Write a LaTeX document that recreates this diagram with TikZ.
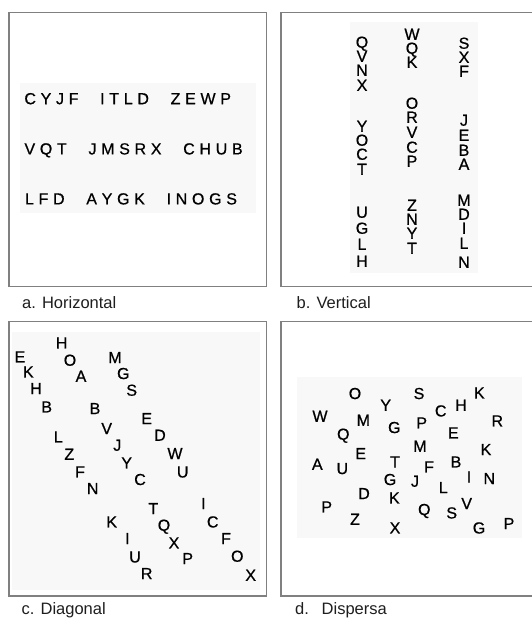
\documentclass[tikz,border=0pt]{standalone}
\usepackage{fontspec}
\setmainfont{Liberation Sans}
\newfontfamily\ltrfont[FakeBold=0.7]{Liberation Sans}
\definecolor{framegray}{RGB}{128,128,128}
\definecolor{bggray}{RGB}{248,248,248}
\definecolor{captxt}{RGB}{30,30,30}
\newlength\lsp
\setlength\lsp{4.7pt}
\def\spaced#1{\spacedi#1\relax}
\def\spacedi#1{\ifx#1\relax\else#1\kern\lsp\expandafter\spacedi\fi}
\newcommand\hrowtext[3]{\spaced{#1}\hspace{17pt}\spaced{#2}\hspace{17pt}\spaced{#3}}
\begin{document}
\begin{tikzpicture}[x=1pt,y=-1pt,
  frame/.style={draw=framegray, line width=1.8pt},
  bgbox/.style={fill=bggray, draw=none},
  ltr/.style={font=\ltrfont\fontsize{16}{17}\selectfont, inner sep=0pt, text height=11.5pt, text depth=0pt},
  hrow/.style={font=\ltrfont\fontsize{16}{17}\selectfont, inner sep=0pt, anchor=base west},
  captext/.style={font=\fontsize{16.5}{18}\selectfont, text=captxt, inner sep=0pt, anchor=base west}]
\useasboundingbox (0,0) rectangle (531,619);
\fill[white] (0,0) rectangle (531,619);
% backgrounds
\path[bgbox] (20,83) rectangle (256,213);
\path[bgbox] (350,22) rectangle (478,273);
\path[bgbox] (12,332) rectangle (260,590);
\path[bgbox] (297,377) rectangle (522,538);
% frames
\draw[frame] (9,12.5) rectangle (266.5,286.5);
\draw[frame] (545,12.5) -- (281,12.5) -- (281,286.5) -- (545,286.5);
\draw[frame] (9,321.5) rectangle (266.5,596);
\draw[frame] (545,321.5) -- (281,321.5) -- (281,596) -- (545,596);
% panel a
\node[hrow] (ar1) at (24.2,104.2) {\hrowtext{CYJF}{ITLD}{ZEWP}};
\node[hrow] (ar2) at (24.3,154.4) {\hrowtext{VQT}{JMSRX}{CHUB}};
\node[hrow] (ar3) at (24.8,204.4) {\hrowtext{LFD}{AYGK}{INOGS}};
% panel b
\foreach \y/\c [count=\i] in {42/Q,56/V,70/N,85/X,126/Y,140/O,154/C,169/T,212/U,228/G,244/L,261/H}
  \node[ltr] (b1-\i) at (362,\y) {\c};
\foreach \y/\c [count=\i] in {34/W,48/Q,62/K,103/O,117/R,132/V,147/C,161/P,205/Z,219/N,233/Y,248/T}
  \node[ltr] (b2-\i) at (412,\y) {\c};
\foreach \y/\c [count=\i] in {43/S,57/X,71/F,120/J,135/E,150/B,164/A,200/M,214/D,228/I,243/L,262/N}
  \node[ltr] (b3-\i) at (464,\y) {\c};
% panel c
\foreach \x/\y/\c [count=\i] in {
  61.7/342.7/H, 20/356.7/E, 70/360/O, 115/357.3/M, 28.3/371.7/K, 81/376/A,
  123.3/373.3/G, 36/388.3/H, 131.7/390/S, 46.7/406.7/B, 95/408.3/B, 146.7/418.3/E,
  106.7/428.3/V, 58.3/436.7/L, 160/435/D, 117.3/445/J, 175/453.3/W, 69.3/454/Z,
  126.7/462.7/Y, 182.7/471.7/U, 80/471.7/F, 140/479.3/C, 92.7/488.3/N, 153.3/508.3/T,
  203.3/503.3/I, 111.7/521.7/K, 212.7/521.7/C, 164/525/Q, 127.3/538.3/I, 174/542.7/X,
  226/538.3/F, 135/556.7/U, 187.7/558.3/P, 237.3/556/O, 146.7/573.3/R, 250.7/575/X}
  \node[ltr] (c-\i) at (\x,\y) {\c};
% panel d
\foreach \x/\y/\c [count=\i] in {
  355/393.3/O, 419/393.3/S, 479.3/392.7/K, 385.7/405/Y, 461/405/H, 440.7/410.7/C,
  320/416/W, 363.3/420/M, 497.3/420.7/R, 394.3/427.3/G, 421.7/422.7/P, 343.3/434/Q,
  453.3/432.7/E, 420/446/M, 486/449.3/K, 360.7/453.3/E, 317.3/464/A, 395/461.7/T,
  456/461.7/B, 342.3/468.3/U, 429/466.7/F, 469/476.7/I, 489.3/478.3/N, 390/479.3/G,
  415/481/J, 443.3/487.3/L, 364/493.3/D, 394.3/497.7/K, 326.7/506.7/P, 466.7/503.3/V,
  424.3/509.3/Q, 451.7/512.7/S, 355/519/Z, 509/523.3/P, 479/527.7/G, 395/527.7/X}
  \node[ltr] (d-\i) at (\x,\y) {\c};
% captions
\node[captext] (capa) at (22,308.5) {a. Horizontal};
\node[captext] (capb) at (296.5,308.5) {b. Vertical};
\node[captext] (capc) at (21.5,614.5) {c. Diagonal};
\node[captext] (capd1) at (295,614.5) {d.};
\node[captext] (capd2) at (321.5,614.5) {Dispersa};
\end{tikzpicture}
\end{document}
